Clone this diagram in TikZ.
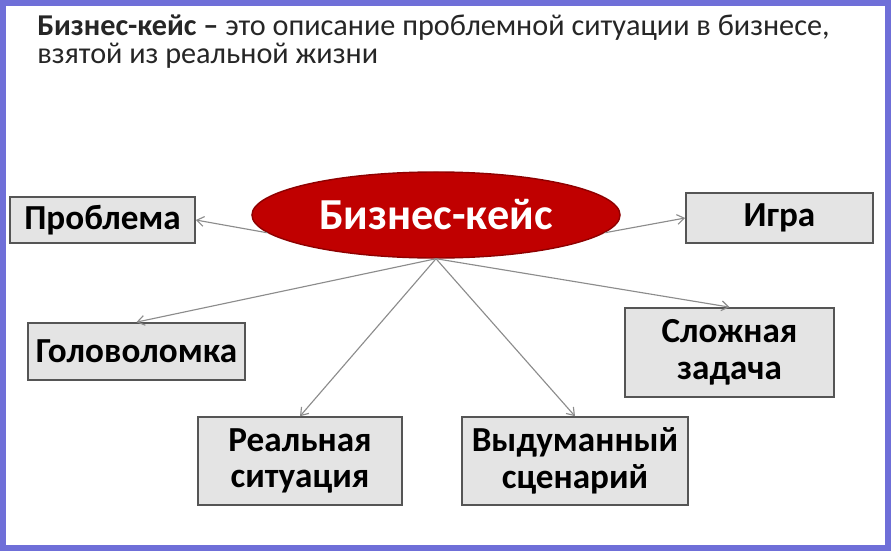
\documentclass[tikz,border=0pt]{standalone}
\usepackage{fontspec}
\setmainfont{Carlito}
\usepackage{xcolor}
\usetikzlibrary{arrows.meta,shapes.geometric}

\definecolor{framec}{HTML}{6F6FD8}
\definecolor{boxfill}{HTML}{E4E4E4}
\definecolor{boxline}{HTML}{555555}
\definecolor{casered}{HTML}{C00000}
\definecolor{caseline}{HTML}{8E0000}
\definecolor{linkgray}{HTML}{8C8C8C}

\begin{document}
\begin{tikzpicture}[x=0.025cm,y=-0.025cm,>={Straight Barb[length=5pt,width=7pt]},
    item/.style={draw=boxline,fill=boxfill,line width=1.1pt,align=center,inner sep=0pt,
      font=\bfseries\fontsize{25}{26}\selectfont,text=black},
    titleline/.style={anchor=base west,inner sep=0pt,text=black!85,
      font=\fontsize{21.5}{24}\selectfont},
    link/.style={->,draw=linkgray,line width=0.8pt}]
			\useasboundingbox (0,0) rectangle (892,552);
			\fill[white] (0,0) rectangle (892,552);
			\draw[framec,line width=4.5pt] (3,3) rectangle (888,548);
			
			\node[titleline] (title1) at (37,35)
			  {\textbf{Бизнес-кейс –} это описание проблемной ситуации в бизнесе,};
			\node[titleline] (title2) at (37,63) {взятой из реальной жизни};
			
			\node[ellipse,fill=casered,draw=caseline,line width=1pt,inner sep=0pt,
			  minimum width=9.2cm,minimum height=2.15cm,text=white,
			  font=\bfseries\fontsize{31.5}{34}\selectfont] (case) at (436,215) {Бизнес-кейс};
			
			\node[item,minimum width=4.63cm,minimum height=1.15cm] (problem) at (102.5,220) {Проблема};
			\node[item,minimum width=4.68cm,minimum height=1.25cm] (game) at (779.5,218) {Игра};
			\node[item,minimum width=5.43cm,minimum height=1.43cm] (puzzle) at (136.5,351.5) {Головоломка};
			\node[item,minimum width=5.23cm,minimum height=2.23cm] (task) at (729.5,352.5) {Сложная\\задача};
			\node[item,minimum width=5.10cm,minimum height=2.20cm] (real) at (300,461) {Реальная\\ситуация};
			\node[item,minimum width=5.65cm,minimum height=2.20cm] (fiction) at (575,461) {Выдуманный\\сценарий};
			
			\draw[link] (case.186) -- (problem.east);
			\draw[link] (case.354) -- (game.west);
			\draw[link] (case.south) -- (puzzle.north);
			\draw[link] (case.south) -- (task.north);
			\draw[link] (case.south) -- (real.north);
			\draw[link] (case.south) -- (fiction.north);
		\end{tikzpicture}
\end{document}
